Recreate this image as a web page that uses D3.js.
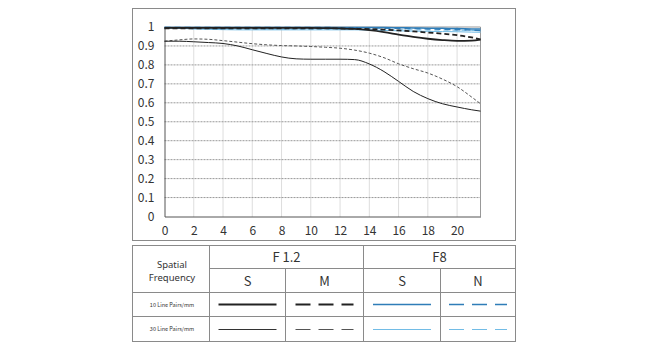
<!DOCTYPE html>
<html><head><meta charset="utf-8">
<script src="https://cdn.jsdelivr.net/npm/d3@7"></script>
<style>body{margin:0;background:#fff;}svg{display:block;font-family:"Noto Sans CJK KR","Noto Sans",sans-serif;}</style>
</head><body><svg id="c" width="650" height="350"></svg>
<script>
// ---- data ----
const xs = [0,1,2,3,4,5,6,7,8,9,10,11,12,13,14,15,16,17,18,19,20,21,21.6];
const f12S10 = [0.995,0.995,0.995,0.995,0.995,0.995,0.995,0.995,0.995,0.995,0.995,0.994,0.993,0.99,0.983,0.973,0.96,0.948,0.938,0.931,0.927,0.928,0.933];
const f12M10 = [0.993,0.993,0.993,0.993,0.993,0.993,0.993,0.993,0.993,0.993,0.993,0.993,0.992,0.991,0.989,0.986,0.982,0.977,0.971,0.965,0.957,0.945,0.935];
const f12S30 = [0.925,0.925,0.922,0.918,0.913,0.9,0.88,0.86,0.842,0.832,0.83,0.83,0.83,0.828,0.805,0.765,0.713,0.66,0.622,0.595,0.578,0.563,0.556];
const f12M30 = [0.925,0.932,0.937,0.935,0.928,0.92,0.912,0.906,0.902,0.9,0.897,0.893,0.888,0.878,0.862,0.838,0.806,0.78,0.757,0.725,0.685,0.63,0.595];
const f8S10 = [0.998,0.998,0.998,0.998,0.998,0.998,0.998,0.998,0.998,0.998,0.998,0.998,0.998,0.998,0.997,0.997,0.996,0.995,0.994,0.993,0.992,0.99,0.989];
const f8N10 = [0.997,0.997,0.997,0.997,0.997,0.997,0.997,0.997,0.997,0.997,0.997,0.997,0.996,0.996,0.995,0.994,0.993,0.992,0.99,0.988,0.986,0.984,0.982];
const f8S30 = [0.995,0.993,0.99,0.988,0.986,0.985,0.985,0.985,0.985,0.985,0.985,0.985,0.985,0.985,0.984,0.982,0.98,0.978,0.977,0.976,0.975,0.973,0.972];
const f8N30 = [0.995,0.993,0.991,0.99,0.989,0.988,0.988,0.988,0.988,0.988,0.988,0.988,0.988,0.988,0.987,0.986,0.985,0.985,0.984,0.984,0.983,0.982,0.98];
const xTicks = [0,2,4,6,8,10,12,14,16,18,20];
const yTicks = [0,0.1,0.2,0.3,0.4,0.5,0.6,0.7,0.8,0.9,1];
const apertures = ["F 1.2","F8"];
const subHeads = ["S","M","S","N"];
const rowLabels = ["10 Line Pairs/mm","30 Line Pairs/mm"];

const DARK="#222", GRAY="#555", BLUE="#2f7db8", LBLUE="#72bce6";
const series = [
  {v:f8S30, c:LBLUE, w:1, d:null},
  {v:f8N30, c:LBLUE, w:1, d:"5,4"},
  {v:f8S10, c:BLUE, w:1.5, d:null},
  {v:f8N10, c:BLUE, w:1.5, d:"6,4"},
  {v:f12M30, c:GRAY, w:1, d:"3,2"},
  {v:f12S30, c:DARK, w:1, d:null},
  {v:f12M10, c:DARK, w:1.8, d:"5,3"},
  {v:f12S10, c:DARK, w:1.8, d:null}
];

const svg = d3.select("#c");
// outer frames
svg.append("rect").attr("x",132.5).attr("y",8.5).attr("width",383).attr("height",232).attr("fill","none").attr("stroke","#8a8a8a");
svg.append("rect").attr("x",132.5).attr("y",245.5).attr("width",383).attr("height",96).attr("fill","none").attr("stroke","#8a8a8a");

const x = d3.scaleLinear().domain([0,21.6]).range([164.5,480.5]);
const y = d3.scaleLinear().domain([0,1]).range([216.5,27]);

// grid
const g = svg.append("g");
g.selectAll(".vg").data(xTicks.filter(t=>t>0)).join("line")
  .attr("x1",d=>x(d)).attr("x2",d=>x(d)).attr("y1",y(0)).attr("y2",y(1))
  .attr("stroke","#bbb").attr("stroke-dasharray","1,1");
g.selectAll(".hg").data(yTicks.filter(t=>t>0&&t<1)).join("line")
  .attr("x1",x(0)).attr("x2",x(21.6)).attr("y1",d=>y(d)).attr("y2",d=>y(d))
  .attr("stroke","#999").attr("stroke-dasharray","2,1");
// plot border
svg.append("line").attr("x1",x(21.6)).attr("x2",x(21.6)).attr("y1",y(0)).attr("y2",y(1)).attr("stroke","#999");
svg.append("line").attr("x1",x(0)).attr("x2",x(21.6)).attr("y1",y(1)).attr("y2",y(1)).attr("stroke","#999");

// axes
const yAxis = d3.axisLeft(y).tickValues(yTicks).tickSize(0).tickPadding(10).tickFormat(d=>d3.format("~g")(d));
const ya = svg.append("g").attr("transform",`translate(${x(0)},0)`).call(yAxis);
const xAxis = d3.axisBottom(x).tickValues(xTicks).tickSize(0).tickPadding(10).tickFormat(d3.format("d"));
const xa = svg.append("g").attr("transform",`translate(0,${y(0)})`).call(xAxis);
[ya,xa].forEach(a=>{a.select(".domain").attr("stroke","#555");a.selectAll("text").attr("font-size",12).attr("fill","#333").attr("font-family","'Noto Sans CJK KR','Noto Sans',sans-serif");});

// lines
const line = d3.line().x((d,i)=>x(xs[i])).y(d=>y(d)).curve(d3.curveMonotoneX);
svg.append("g").selectAll("path").data(series).join("path")
  .attr("d",s=>line(s.v)).attr("fill","none").attr("stroke",s=>s.c).attr("stroke-width",s=>s.w)
  .attr("stroke-dasharray",s=>s.d);

// table
const T = svg.append("g").attr("stroke","#8a8a8a").attr("fill","none");
const colX = [132.5,209.5,285.5,363.5,440.5,515.5];
const rowY = [245.5,268.5,292.5,316.5,341.5];
T.append("line").attr("x1",colX[1]).attr("x2",colX[5]).attr("y1",rowY[1]).attr("y2",rowY[1]);
T.append("line").attr("x1",colX[0]).attr("x2",colX[5]).attr("y1",rowY[2]).attr("y2",rowY[2]);
T.append("line").attr("x1",colX[0]).attr("x2",colX[5]).attr("y1",rowY[3]).attr("y2",rowY[3]);
T.append("line").attr("x1",colX[1]).attr("x2",colX[1]).attr("y1",rowY[0]).attr("y2",rowY[4]);
T.append("line").attr("x1",colX[3]).attr("x2",colX[3]).attr("y1",rowY[0]).attr("y2",rowY[4]);
T.append("line").attr("x1",colX[2]).attr("x2",colX[2]).attr("y1",rowY[1]).attr("y2",rowY[4]);
T.append("line").attr("x1",colX[4]).attr("x2",colX[4]).attr("y1",rowY[1]).attr("y2",rowY[4]);

const txt = svg.append("g").attr("fill","#333").attr("text-anchor","middle");
apertures.forEach((a,i)=>{
  txt.append("text").attr("x",(colX[1+2*i]+colX[3+2*i])/2).attr("y",262).attr("font-size",13).text(a);
});
subHeads.forEach((s,i)=>{
  txt.append("text").attr("x",(colX[1+i]+colX[2+i])/2).attr("y",285.5).attr("font-size",13).text(s);
});
txt.append("text").attr("x",172).attr("y",267.5).attr("font-size",9.5).attr("font-family","'Noto Sans',sans-serif").text("Spatial");
txt.append("text").attr("x",172).attr("y",280.5).attr("font-size",9.5).attr("font-family","'Noto Sans',sans-serif").text("Frequency");
rowLabels.forEach((r,i)=>{
  txt.append("text").attr("x",172).attr("y",(rowY[2+i]+rowY[3+i])/2+2).attr("font-size",5.5).text(r);
});

// legend samples
const leg = [
  [{c:DARK,w:2,d:null},{c:DARK,w:2,d:"15,8"},{c:BLUE,w:1.5,d:null},{c:BLUE,w:1.5,d:"15,8"}],
  [{c:"#333",w:1,d:null},{c:GRAY,w:1,d:"15,8"},{c:LBLUE,w:1,d:null},{c:LBLUE,w:1,d:"15,8"}]
];
leg.forEach((row,ri)=>{
  const yy = Math.floor((rowY[2+ri]+rowY[3+ri])/2)+0.5;
  row.forEach((s,ci)=>{
    const cx = (colX[1+ci]+colX[2+ci])/2;
    svg.append("line").attr("x1",cx-29).attr("x2",cx+29).attr("y1",yy).attr("y2",yy)
      .attr("stroke",s.c).attr("stroke-width",s.w).attr("stroke-dasharray",s.d);
  });
});
</script></body></html>
